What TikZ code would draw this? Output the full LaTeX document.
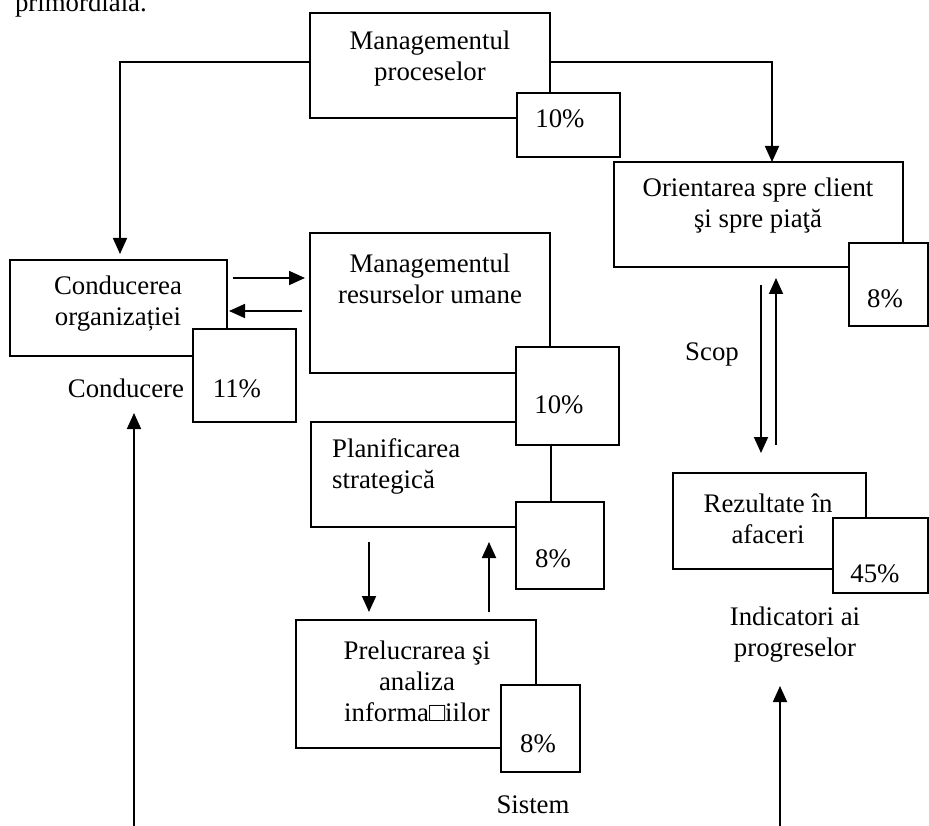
\documentclass[tikz,border=0pt]{standalone}
\usepackage{fontspec}
\setmainfont{Liberation Serif}
\usetikzlibrary{arrows.meta}
\tikzset{
  bx/.style={draw=black,line width=1.8pt,inner sep=0pt,outer sep=0pt,fill=white},
  txt/.style={font=\fontsize{26.8}{31}\selectfont,inner sep=0pt,align=center},
  arr/.style={line width=1.8pt,-{Triangle[length=16pt,width=14pt]}},
  ln/.style={line width=1.8pt},
}
\begin{document}
\begin{tikzpicture}[x=1pt,y=-1pt]
\useasboundingbox (0,0) rectangle (929,826);
\node[txt,anchor=base east] (top) at (147,12) {primordială.};
% main boxes
\node[bx,minimum width=240pt,minimum height=105pt] (mp) at (430,65.5) {};
\node[bx,minimum width=217pt,minimum height=96pt] (co) at (118.5,308) {};
\node[bx,minimum width=240pt,minimum height=140pt] (hr) at (430,303) {};
\node[bx,minimum width=240pt,minimum height=105pt] (pl) at (431,474.5) {};
\node[bx,minimum width=289pt,minimum height=105pt] (or) at (758.5,214.5) {};
\node[bx,minimum width=193pt,minimum height=96pt] (re) at (769.5,521) {};
\node[bx,minimum width=240pt,minimum height=128pt] (pr) at (416,684) {};
% percent boxes
\node[bx,minimum width=103pt,minimum height=64pt] (p1) at (568.5,125) {};
\node[bx,minimum width=103pt,minimum height=93pt] (p2) at (244.5,375.5) {};
\node[bx,minimum width=103pt,minimum height=98pt] (p3) at (567.5,396) {};
\node[bx,minimum width=88pt,minimum height=87pt] (p4) at (560,545.5) {};
\node[bx,minimum width=79pt,minimum height=83pt] (p5) at (888.5,284.5) {};
\node[bx,minimum width=95pt,minimum height=75pt] (p6) at (880.5,555.5) {};
\node[bx,minimum width=79pt,minimum height=87pt] (p7) at (540.5,728.5) {};
% texts
\node[txt] (mpt) at (430,59) {Managementul\\proceselor};
\node[txt] (cot) at (118,304) {Conducerea\\organizației};
\node[txt] (hrt) at (430,279) {Managementul\\resurselor umane};
\node[txt,anchor=west,align=left] (plt) at (332,466) {Planificarea\\strategică};
\node[txt] (ort) at (758,206) {Orientarea spre client\\şi spre piaţă};
\node[txt] (ret) at (768,519) {Rezultate în\\afaceri};
\node[txt] (indt) at (795,635) {Indicatori ai\\progreselor};
\node[txt] (prt) at (417,681) {Prelucrarea şi\\analiza\\informa□iilor};
\node[txt,anchor=base] (scop) at (712,360) {Scop};
\node[txt,anchor=base] (cond) at (126,397) {Conducere};
\node[txt,anchor=base] (sist) at (533,813) {Sistem};
\node[txt,anchor=base] (q1) at (560,128) {10\%};
\node[txt,anchor=base] (q2) at (237,397) {11\%};
\node[txt,anchor=base] (q3) at (559,413) {10\%};
\node[txt,anchor=base] (q4) at (553,567) {8\%};
\node[txt,anchor=base] (q5) at (885,308) {8\%};
\node[txt,anchor=base] (q6) at (875,582) {45\%};
\node[txt,anchor=base] (q7) at (538,752) {8\%};
% connectors
\draw[arr] (mp.west |- 0,62) -| ([yshift=6pt]co.north -| 120,0);
\draw[arr] (mp.east |- 0,62) -| (or.north -| 772,0);
\draw[arr,shorten <=6pt,shorten >=5pt] (co.east |- 0,278) -- (hr.west |- 0,278);
\draw[arr,shorten <=8pt,shorten >=2pt] (hr.west |- 0,311) -- (co.east |- 0,311);
\draw[arr,shorten <=15pt,shorten >=8pt] (pl.south -| 369,0) -- (pr.north -| 369,0);
\draw[arr,shorten <=8pt,shorten >=15pt] (pr.north -| 489,0) -- (pl.south -| 489,0);
\draw[arr,shorten <=18pt,shorten >=20pt] (or.south -| 761,0) -- (re.north -| 761,0);
\draw[arr,shorten <=28pt,shorten >=11pt] (re.north -| 776,0) -- (or.south -| 776,0);
\coordinate (b1) at (134,826);
\coordinate (b1t) at (134,413);
\draw[arr] (b1) -- (b1t);
\coordinate (b2) at (780,826);
\coordinate (b2t) at (780,686);
\draw[arr] (b2) -- (b2t);
\end{tikzpicture}
\end{document}
